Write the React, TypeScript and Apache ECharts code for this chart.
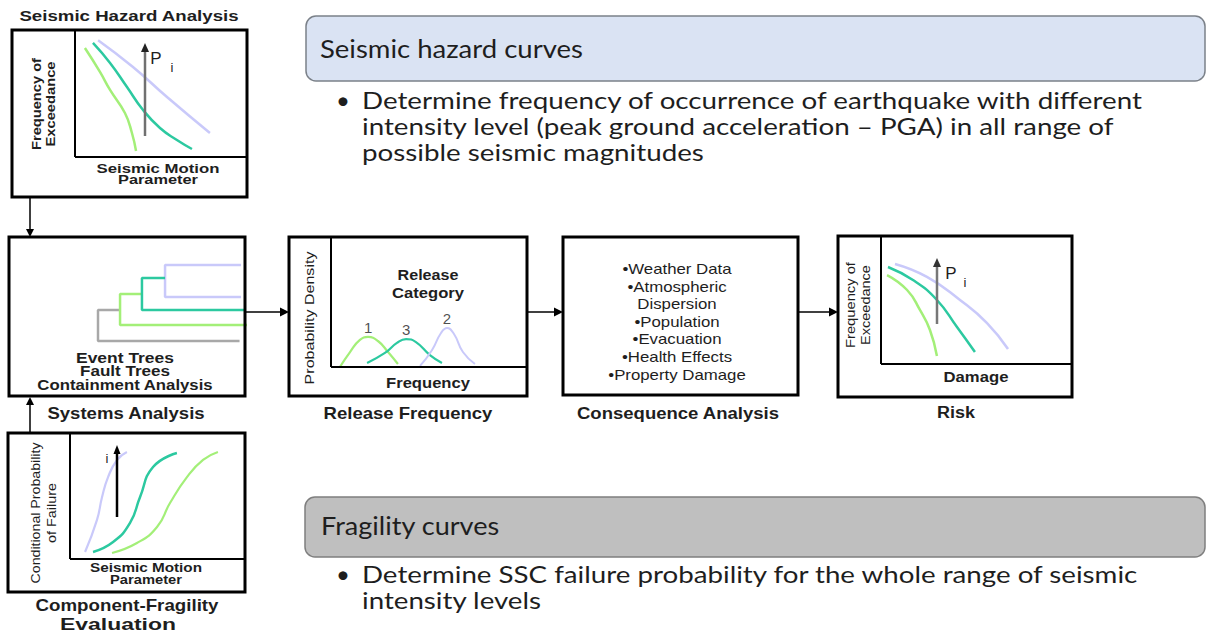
import React, { useEffect, useRef } from 'react';
import * as echarts from 'echarts';

// ---- Data (normalised 0-100 plot coordinates) ----
const hazardGreen = [[5.8, 85.8], [14.6, 67], [20.5, 52.8], [29.2, 34.6], [33.3, 18.9], [35.7, 4.7]];
const hazardTeal = [[10.5, 89.8], [20.5, 74], [30.4, 55.1], [39.8, 37], [49.7, 22.8], [59.6, 13.4], [68.4, 6.3]];
const hazardLavender = [[13.5, 92], [33.9, 70.9], [53.8, 47.2], [78.9, 18.9]];

const treeGray = [[14.8, 40.8], [0, 40.8], [0, 0], [95, 0]];
const treeGreen = [[29.5, 61.8], [14.8, 61.8], [14.8, 21], [100, 21]];
const treeTeal = [[45, 82.9], [29.5, 82.9], [29.5, 40.8], [98.7, 40.8]];
const treeLavender = [[96, 100], [45, 100], [45, 57.9], [96, 57.9]];

const release1 = [[4.6, 0], [9.8, 11.5], [14.9, 20.8], [19.1, 23.1], [24.2, 20], [29.4, 11.5], [34.5, 2.3]];
const release3 = [[18.6, 3.1], [27.8, 10.8], [34, 18.5], [38.7, 21.5], [43.8, 19.2], [51, 9.2], [57.2, 3.1]];
const release2 = [[45.9, 0.8], [52.1, 13.1], [56.7, 26.2], [59.8, 30], [63.4, 25.4], [68, 11.5], [74.2, 2.3]];
const releaseLabels = ['1', '3', '2'];

const riskGreen = [[3.2, 69.5], [13.8, 57.8], [20.6, 42.2], [25.9, 26.6], [29.6, 6.3]];
const riskTeal = [[3.7, 75.8], [16.9, 65.6], [29.6, 50], [40.2, 28.9], [49.7, 9.4]];
const riskLavender = [[7.4, 78.1], [24.3, 68], [41.8, 50], [56.1, 32], [67.2, 11.7]];

const fragLavender = [[8.7, 5.6], [15.6, 31], [18.5, 49], [22, 65], [27.2, 78.6], [32.9, 84.9]];
const fragTeal = [[13.3, 5.6], [24.9, 13.5], [34.7, 28.6], [40.5, 49.2], [48, 73], [61.8, 84.1]];
const fragGreen = [[24.3, 4.8], [38.7, 12.7], [50.3, 25.4], [57.8, 44.4], [67.6, 65], [76.9, 78.6], [85.5, 84.9]];

const consequenceItems = ['•Weather Data', '•Atmospheric', 'Dispersion', '•Population', '•Evacuation', '•Health Effects', '•Property Damage'];
const systemsItems = ['Event Trees', 'Fault Trees', 'Containment Analysis'];
const hazardBullet = [
  'Determine frequency of occurrence of earthquake with different',
  'intensity level (peak ground acceleration – PGA) in all range of',
  'possible seismic magnitudes',
];
const fragilityBullet = ['Determine SSC failure probability for the whole range of seismic', 'intensity levels'];

const GREEN = '#a3ef78';
const TEAL = '#2cc9a0';
const LAV = '#c9c9fa';
const TREEGRAY = '#a8a8a8';
const INK = '#1e1e1e';

export default function App() {
  const ref = useRef<HTMLDivElement>(null);
  useEffect(() => {
    if (!ref.current) return;
    const chart = echarts.init(ref.current, null, { renderer: 'svg' });
    const cv = document.createElement('canvas').getContext('2d')!;
    const measure = (s: string, font: string) => { cv.font = font; return cv.measureText(s).width; };

    const T = (s: string, x: number, y: number, o: any = {}) => {
      const size = o.size ?? 13;
      const weight = o.bold ? 'bold' : 'normal';
      const fam = o.family ?? 'Liberation Sans';
      const font = `${weight} ${size}px "${fam}"`;
      const scaleX = o.w ? o.w / measure(s, font) : (o.sx ?? 1);
      return {
        type: 'text', x, y, rotation: o.rot ?? 0, scaleX, scaleY: 1, z: 10,
        style: {
          text: s, fontSize: size, fontWeight: weight, fontFamily: fam,
          fill: o.color ?? INK, align: o.align ?? 'center', verticalAlign: 'middle',
        },
      };
    };
    const L = (x1: number, y1: number, x2: number, y2: number, w = 2, c = '#000') => ({
      type: 'line', z: 5, shape: { x1, y1, x2, y2 }, style: { stroke: c, lineWidth: w },
    });
    const R = (x: number, y: number, wd: number, h: number, o: any = {}) => ({
      type: 'rect', z: o.z ?? 4, shape: { x, y, width: wd, height: h, r: o.r ?? 0 },
      style: { fill: o.fill ?? 'none', stroke: o.stroke ?? '#000', lineWidth: o.lw ?? 3 },
    });
    const A = (x1: number, y1: number, x2: number, y2: number, o: any = {}) => {
      const c = o.color ?? '#000';
      const hc = o.head ?? c;
      const hl = o.hl ?? 8, hw = o.hw ?? 4;
      const dx = x2 - x1, dy = y2 - y1;
      const len = Math.hypot(dx, dy);
      const ux = dx / len, uy = dy / len;
      const bx = x2 - ux * hl, by = y2 - uy * hl;
      return [
        L(x1, y1, bx, by, o.w ?? 1.5, c),
        {
          type: 'polygon', z: 6,
          shape: { points: [[x2, y2], [bx - uy * hw, by + ux * hw], [bx + uy * hw, by - ux * hw]] },
          style: { fill: hc },
        },
      ];
    };

    const gridDefs = [
      { left: 75, top: 30, width: 171, height: 127 },   // hazard
      { left: 98, top: 265, width: 149, height: 76 },   // systems tree
      { left: 331, top: 237, width: 194, height: 130 }, // release
      { left: 881, top: 236, width: 189, height: 128 }, // risk
      { left: 70, top: 433, width: 173, height: 126 },  // fragility
    ];
    const axis = (i: number) => ({ type: 'value', gridIndex: i, min: 0, max: 100, show: false });

    const curve = (gi: number, data: number[][], color: string, w = 2.5, smooth: any = 0.5, op = 1) => ({
      type: 'line', xAxisIndex: gi, yAxisIndex: gi, data, smooth, showSymbol: false, symbol: 'none',
      clip: false, silent: true, z: 3,
      lineStyle: { color, width: w, opacity: op },
    });

    const peaks = [release1, release3, release2].map((d, i) => {
      const p = d.reduce((a, b) => (b[1] > a[1] ? b : a));
      return { value: p, label: releaseLabels[i] };
    });

    const series: any[] = [
      curve(0, hazardLavender, LAV, 2.5),
      curve(0, hazardGreen, GREEN, 2.5),
      curve(0, hazardTeal, TEAL, 2.5),
      curve(1, treeLavender, LAV, 2.5, false),
      curve(1, treeGray, TREEGRAY, 2.5, false),
      curve(1, treeGreen, GREEN, 2.5, false),
      curve(1, treeTeal, TEAL, 2.5, false),
      curve(2, release1, GREEN, 2.2),
      curve(2, release3, TEAL, 2.2),
      curve(2, release2, LAV, 2),
      {
        type: 'scatter', xAxisIndex: 2, yAxisIndex: 2, symbolSize: 0, silent: true,
        data: peaks.map((p) => ({ value: p.value, name: p.label })),
        label: {
          show: true, position: 'top', distance: 2, formatter: (p: any) => p.name,
          fontFamily: 'Liberation Sans', fontSize: 15, color: INK,
        },
      },
      curve(3, riskLavender, LAV, 2.5),
      curve(3, riskGreen, GREEN, 2.5),
      curve(3, riskTeal, TEAL, 2.5),
      curve(4, fragLavender, LAV, 2.2),
      curve(4, fragTeal, TEAL, 2.5),
      curve(4, fragGreen, GREEN, 2.2),
    ];

    const g: any[] = [];
    // Right-hand panels
    g.push(R(306, 16, 899, 65, { fill: '#dae3f3', stroke: '#7b8189', lw: 1.5, r: 10, z: 1 }));
    g.push(R(305, 497, 900, 60, { fill: '#bfbfbf', stroke: '#7f7f7f', lw: 1.5, r: 10, z: 1 }));
    g.push(T('Seismic hazard curves', 320, 48, { family: 'Lato', size: 25, w: 263, align: 'left' }));
    g.push(T('Fragility curves', 321, 525, { family: 'Lato', size: 25, w: 179, align: 'left' }));
    const bfont = 'normal 24px "Lato"';
    const bsx = 783 / measure(hazardBullet[0], bfont);
    [100, 126, 152].forEach((y, i) => g.push(T(hazardBullet[i], 362, y, { family: 'Lato', size: 24, sx: bsx, align: 'left' })));
    g.push(T('•', 343, 99, { family: 'Lato', size: 24, align: 'center' }));
    const bsx2 = 778 / measure(fragilityBullet[0], bfont);
    [574, 600].forEach((y, i) => g.push(T(fragilityBullet[i], 362, y, { family: 'Lato', size: 24, sx: bsx2, align: 'left' })));
    g.push(T('•', 343, 573, { family: 'Lato', size: 24, align: 'center' }));

    // Hazard box
    g.push(R(12, 30, 235, 167));
    g.push(L(75, 30, 75, 157), L(75, 157, 247, 157));
    g.push(T('Seismic Hazard Analysis', 129, 16, { bold: true, size: 15, w: 220 }));
    g.push(T('Frequency of', 37, 104, { bold: true, size: 12, w: 92, rot: Math.PI / 2 }));
    g.push(T('Exceedance', 51, 104, { bold: true, size: 12, w: 85, rot: Math.PI / 2 }));
    g.push(T('Seismic Motion', 158, 168, { bold: true, size: 13, w: 123 }));
    g.push(T('Parameter', 158, 180, { bold: true, size: 13, w: 80 }));
    g.push(...A(145, 136, 145, 43, { color: '#707070', head: '#222', w: 2.5, hl: 9, hw: 4 }));
    g.push(T('P', 156, 58, { size: 17 }));
    g.push(T('i', 172, 67, { size: 13 }));

    // connectors
    g.push(...A(30, 197, 30, 237, { hl: 8, hw: 4 }));
    g.push(...A(30, 433, 30, 397, { hl: 8, hw: 4 }));
    g.push(...A(246, 312, 289, 312, { hl: 9, hw: 4.5 }));
    g.push(...A(528, 312, 563, 312, { hl: 9, hw: 4.5 }));
    g.push(...A(799, 312, 838, 312, { hl: 9, hw: 4.5 }));

    // Systems box
    g.push(R(9, 237, 236, 159));
    systemsItems.forEach((s, i) => g.push(T(s, 125, 358 + i * 13.5, { bold: true, size: 14, w: [98, 90, 176][i] })));
    g.push(T('Systems Analysis', 126, 413, { bold: true, size: 16, w: 158 }));

    // Release box
    g.push(R(289, 237, 238, 159));
    g.push(L(331, 237, 331, 367), L(331, 367, 527, 367));
    g.push(T('Probability Density', 310, 318, { size: 13, w: 133, rot: Math.PI / 2 }));
    g.push(T('Release', 428, 275, { bold: true, size: 14, w: 61 }));
    g.push(T('Category', 428, 293, { bold: true, size: 14, w: 72 }));
    g.push(T('Frequency', 428, 383, { bold: true, size: 14, w: 84 }));
    g.push(T('Release Frequency', 408, 413, { bold: true, size: 16, w: 169 }));

    // Consequence box
    g.push(R(563, 237, 235, 158));
    consequenceItems.forEach((s, i) => g.push(T(s, 677, 269 + i * 17.6, { size: 14, sx: 1.2 })));
    g.push(T('Consequence Analysis', 678, 413, { bold: true, size: 16, w: 203 }));

    // Risk box
    g.push(R(838, 236, 234, 161));
    g.push(L(881, 236, 881, 364), L(881, 364, 1072, 364));
    g.push(T('Frequency of', 851, 305, { size: 12, w: 86, rot: Math.PI / 2 }));
    g.push(T('Exceedance', 866, 305, { size: 12, w: 80, rot: Math.PI / 2 }));
    g.push(T('Damage', 976, 377, { bold: true, size: 14, w: 65 }));
    g.push(T('Risk', 956, 413, { bold: true, size: 16, w: 38 }));
    g.push(...A(937, 324, 937, 258, { color: '#777', head: '#333', w: 2.5, hl: 9, hw: 4 }));
    g.push(T('P', 951, 273, { size: 17 }));
    g.push(T('i', 965, 282, { size: 13 }));

    // Fragility box
    g.push(R(8, 433, 237, 159));
    g.push(L(70, 433, 70, 559), L(70, 559, 245, 559));
    g.push(T('Conditional Probability', 36, 513, { size: 12, w: 141, rot: Math.PI / 2 }));
    g.push(T('of Failure', 52, 513, { size: 12, w: 60, rot: Math.PI / 2 }));
    g.push(T('Seismic Motion', 146, 568, { bold: true, size: 12, w: 112 }));
    g.push(T('Parameter', 146, 580, { bold: true, size: 12, w: 72 }));
    g.push(...A(117, 517, 117, 445, { color: '#000', w: 2.5, hl: 9, hw: 3.5 }));
    g.push(T('i', 107, 458, { size: 13 }));
    g.push(T('Component-Fragility', 127, 605, { bold: true, size: 16, w: 183 }));
    g.push(T('Evaluation', 118, 624, { bold: true, size: 16, w: 116 }));

    chart.setOption({
      animation: false,
      backgroundColor: '#ffffff',
      grid: gridDefs.map((d) => ({ ...d, containLabel: false })),
      xAxis: gridDefs.map((_, i) => axis(i)),
      yAxis: gridDefs.map((_, i) => axis(i)),
      series,
      graphic: g,
    });
    return () => chart.dispose();
  }, []);
  return <div ref={ref} style={{ position: 'absolute', left: 0, top: 0, width: 1207, height: 633, background: '#fff' }} />;
}
